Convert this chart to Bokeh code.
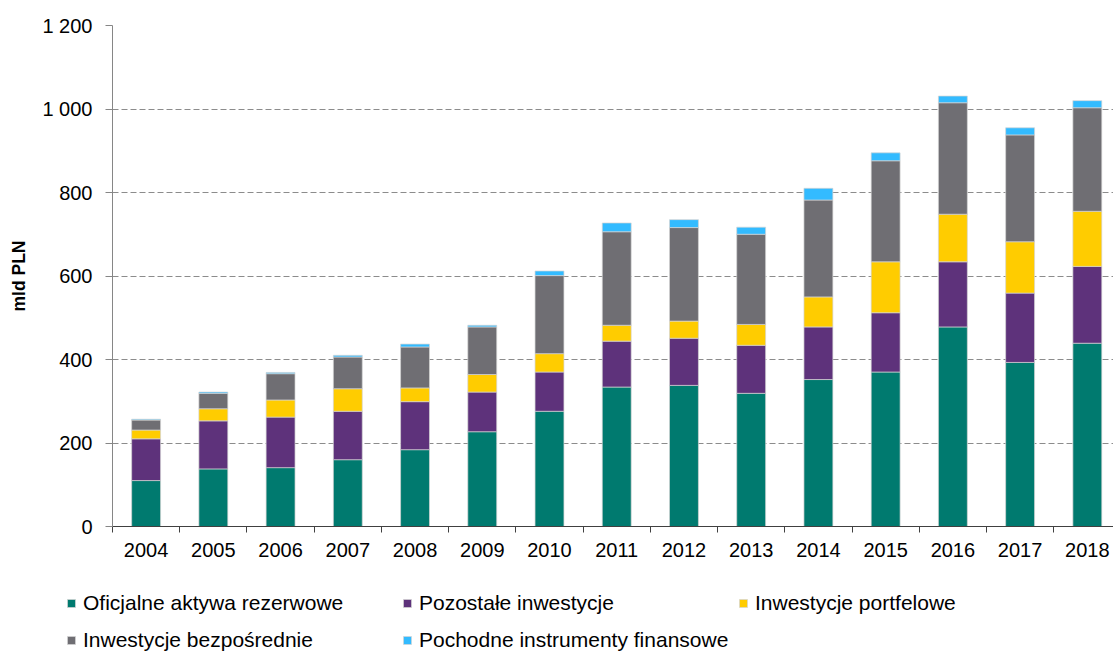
from bokeh.plotting import figure
from bokeh.models import (ColumnDataSource, Range1d, FixedTicker, Legend, LegendItem)
from bokeh.embed import file_html
from bokeh.resources import INLINE

years = [2004, 2005, 2006, 2007, 2008, 2009, 2010, 2011, 2012, 2013, 2014, 2015, 2016, 2017, 2018]
reserve = [110, 138, 141, 160, 184, 227, 276, 334, 338, 319, 352, 370, 478, 393, 439]
other_inv = [100, 115, 121, 116, 115, 95, 94, 110, 113, 115, 126, 142, 156, 166, 184]
portfolio = [21, 29, 41, 54, 33, 42, 44, 38, 41, 50, 72, 122, 114, 123, 132]
direct = [24, 37, 63, 76, 98, 114, 187, 224, 224, 216, 232, 242, 267, 256, 248]
derivatives = [2, 3, 3, 4, 7, 4, 11, 21, 19, 17, 28, 19, 16, 17, 17]

series_keys = ["reserve", "other_inv", "portfolio", "direct", "derivatives"]
series_labels = ["Oficjalne aktywa rezerwowe", "Pozostałe inwestycje", "Inwestycje portfelowe",
                 "Inwestycje bezpośrednie", "Pochodne instrumenty finansowe"]
colors = ["#007A6F", "#5E327B", "#FFCC00", "#6F6E73", "#33BBFF"]
y_ticks = [0, 200, 400, 600, 800, 1000, 1200]
y_tick_labels = ["0", "200", "400", "600", "800", "1 000", "1 200"]

source = ColumnDataSource(dict(x=years, reserve=reserve, other_inv=other_inv, portfolio=portfolio,
                               direct=direct, derivatives=derivatives))

FONT = "Liberation Sans"
W = 1113
H_MAIN, H_LEG = 580, 73
left_border = 112
pitch = 67.23
x_start = years[0] - 0.5
x_end = x_start + (W - left_border) / pitch

p = figure(width=W, height=H_MAIN, output_backend="svg", toolbar_location=None,
           x_range=Range1d(x_start, x_end), y_range=Range1d(0, 1200),
           min_border_left=left_border, min_border_right=0, min_border_top=25, min_border_bottom=54)
p.outline_line_color = None
p.background_fill_color = "white"
p.border_fill_color = "white"

renderers = p.vbar_stack(series_keys, x="x", width=0.43, source=source, color=colors,
                         line_color="#d4d4d4", line_width=0.7)

# X axis
p.xaxis.ticker = FixedTicker(ticks=years, minor_ticks=[y - 0.5 for y in years] + [years[-1] + 0.5])
p.xaxis.major_tick_line_color = None
p.xaxis.minor_tick_out = 6
p.xaxis.minor_tick_in = 0
p.xaxis.minor_tick_line_color = "#404040"
p.xaxis.axis_line_color = "#404040"
p.xaxis.major_label_text_font = FONT
p.xaxis.major_label_text_font_size = "20px"
p.xaxis.major_label_text_color = "#000000"
p.xaxis.major_label_standoff = 10

# Y axis
p.yaxis.ticker = FixedTicker(ticks=y_ticks)
p.yaxis.major_label_overrides = {t: l for t, l in zip(y_ticks, y_tick_labels)}
p.yaxis.minor_tick_line_color = None
p.yaxis.major_tick_out = 7
p.yaxis.major_tick_in = 0
p.yaxis.major_tick_line_color = "#868686"
p.yaxis.axis_line_color = "#868686"
p.yaxis.major_label_text_font = FONT
p.yaxis.major_label_text_font_size = "20px"
p.yaxis.major_label_text_color = "#000000"
p.yaxis.major_label_standoff = 13
p.yaxis.axis_label = "mld PLN"
p.yaxis.axis_label_text_font = FONT
p.yaxis.axis_label_text_font_size = "17.5px"
p.yaxis.axis_label_text_font_style = "bold"
p.yaxis.axis_label_text_color = "#000000"
p.yaxis.axis_label_standoff = 10

p.xgrid.grid_line_color = None
p.ygrid.grid_line_color = "#8c8c8c"
p.ygrid.grid_line_dash = "6 3"
p.ygrid.grid_line_width = 1

# Legend panel (separate root so that it is neither clipped by nor aligned to the bar frame)
pl = figure(width=W, height=H_LEG, output_backend="svg", toolbar_location=None,
            x_axis_location=None, y_axis_location=None,
            x_range=Range1d(0, 1), y_range=Range1d(0, 1),
            min_border_left=0, min_border_right=0, min_border_top=0, min_border_bottom=0)
pl.outline_line_color = None
pl.xgrid.grid_line_color = None
pl.ygrid.grid_line_color = None
# off-range proxies: they only provide the legend swatches
leg_renderers = [pl.vbar(x=[-5], top=[0], width=0.5, color=c, line_color="#d4d4d4", line_width=0.7)
                 for c in colors]

legend = Legend(items=[LegendItem(label=lab, renderers=[r]) for lab, r in zip(series_labels, leg_renderers)],
                location=(66, -2), orientation="horizontal", ncols=3, spacing=6,
                label_width=313, label_height=31, glyph_width=10, glyph_height=10,
                label_standoff=7, padding=0, margin=0, border_line_color=None,
                background_fill_alpha=0, label_text_font=FONT, label_text_font_size="21px",
                label_text_color="#000000")
pl.add_layout(legend, "center")

open("out.html", "w").write(file_html([p, pl], INLINE))
